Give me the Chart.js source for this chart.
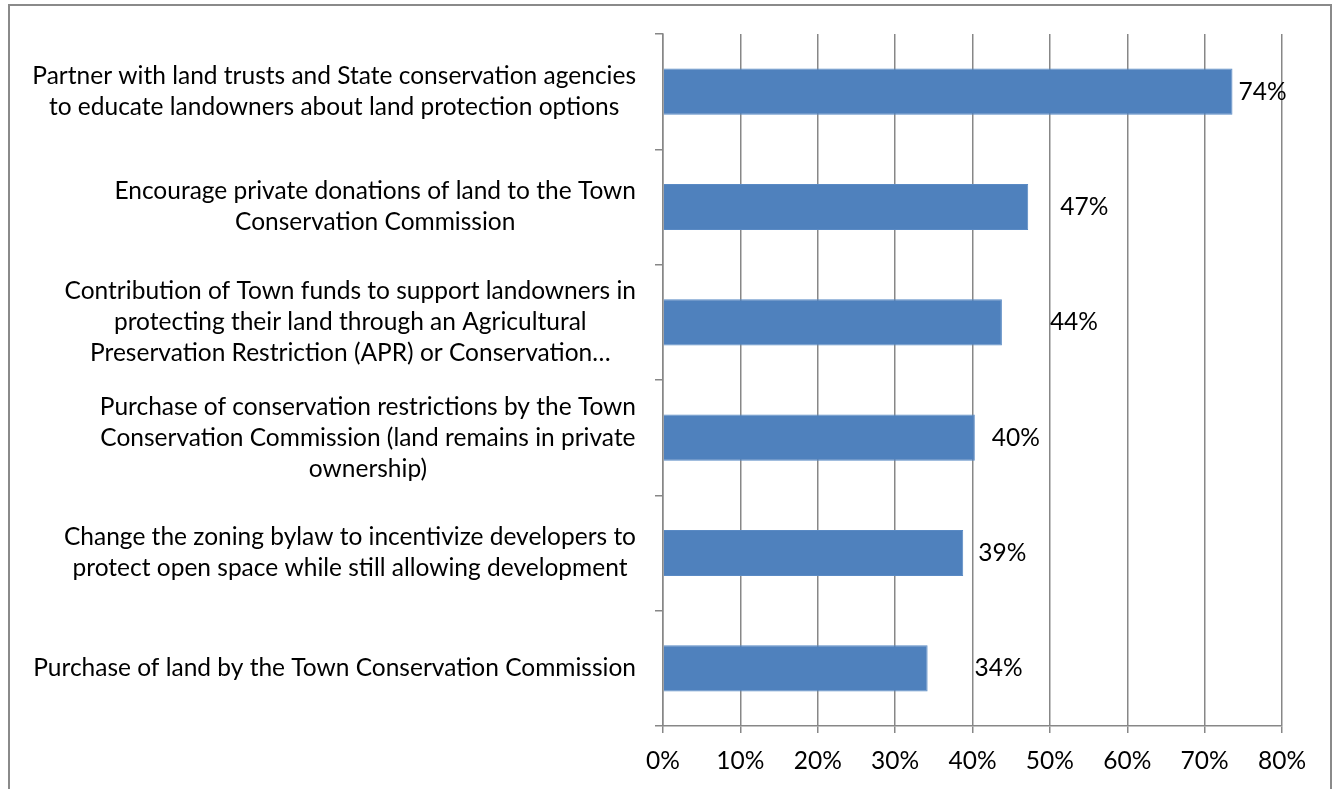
<!DOCTYPE html>
<html>
<head>
<meta charset="utf-8">
<script src="https://cdn.jsdelivr.net/npm/chart.js@4"></script>
<style>
  body { margin: 0; background: #fff; }
  #wrap { position: relative; width: 1341px; height: 789px; overflow: hidden; }
  #frame { position: absolute; left: 8px; top: 4px; width: 1324px; height: 800px; border: 2px solid #8a8a8a; box-sizing: border-box; }
  #chart { position: absolute; left: 0; top: 0; }
</style>
</head>
<body>
<div id="wrap">
  <div id="frame"></div>
  <canvas id="chart" width="1341" height="789"></canvas>
</div>
<script>
// categories (top to bottom), each split into its display lines
const categories = [
    ['Partner with land trusts and State conservation agencies', 'to educate landowners about land protection options'],
    ['Encourage private donations of land to the Town', 'Conservation Commission'],
    ['Contribution of Town funds to support landowners in', 'protecting their land through an Agricultural', 'Preservation Restriction (APR) or Conservation\u2026'],
    ['Purchase of conservation restrictions by the Town', 'Conservation Commission (land remains in private', 'ownership)'],
    ['Change the zoning bylaw to incentivize developers to', 'protect open space while still allowing development'],
    ['Purchase of land by the Town Conservation Commission']
];
const values = [73.6, 47.2, 43.8, 40.3, 38.8, 34.2];
const valueLabels = ['74%', '47%', '44%', '40%', '39%', '34%'];
const xTicks = [0, 10, 20, 30, 40, 50, 60, 70, 80];

// label placement tweaks (px right of bar end), as in the original
const labelNudge = [6, 32, 48, 17, 15, 47];

const fontFamily = 'Lato, "Open Sans", sans-serif';
const fontSize = 24.5;
const gridColor = '#878787';

const categoryLabels = {
    id: 'categoryLabels',
    afterDraw(chart) {
        const ctx = chart.ctx;
        const yScale = chart.scales.y;
        const lineHeight = 31;
        const rightEdge = 636;
        ctx.save();
        ctx.font = fontSize + 'px ' + fontFamily;
        ctx.fillStyle = '#000';
        ctx.textAlign = 'center';
        ctx.textBaseline = 'middle';
        categories.forEach((lines, i) => {
            const cy = yScale.getPixelForTick(i);
            const maxW = Math.max(...lines.map(l => ctx.measureText(l).width));
            const cx = rightEdge - maxW / 2;
            const startY = cy - (lines.length - 1) * lineHeight / 2;
            lines.forEach((l, j) => ctx.fillText(l, cx, startY + j * lineHeight));
        });
        ctx.restore();
    }
};

const valueLabelPlugin = {
    id: 'valueLabels',
    afterDatasetsDraw(chart) {
        const ctx = chart.ctx;
        const meta = chart.getDatasetMeta(0);
        ctx.save();
        ctx.font = fontSize + 'px ' + fontFamily;
        ctx.fillStyle = '#000';
        ctx.textAlign = 'left';
        ctx.textBaseline = 'middle';
        meta.data.forEach((bar, i) => {
            ctx.fillText(valueLabels[i], bar.x + labelNudge[i], bar.y);
        });
        ctx.restore();
    }
};

new Chart(document.getElementById('chart').getContext('2d'), {
    type: 'bar',
    data: {
        labels: categories.map(c => c.join(' ')),
        datasets: [{
            data: values,
            backgroundColor: '#4f81bd',
            borderColor: '#5a8ac4',
            borderWidth: 1,
            categoryPercentage: 1,
            barPercentage: 0.4
        }]
    },
    options: {
        indexAxis: 'y',
        responsive: false,
        animation: false,
        layout: { padding: { top: 34, right: 59, left: 0, bottom: 0 } },
        plugins: {
            legend: { display: false },
            tooltip: { enabled: false }
        },
        scales: {
            x: {
                min: 0,
                max: 80,
                afterBuildTicks: scale => { scale.ticks = xTicks.map(v => ({ value: v })); },
                afterFit: scale => { scale.height = 63; },
                ticks: {
                    callback: v => v + '%',
                    color: '#000',
                    font: { family: fontFamily, size: fontSize },
                    padding: 13,
                    maxRotation: 0
                },
                grid: { color: gridColor, lineWidth: 1.5, tickLength: 7 },
                border: { color: gridColor, width: 1.5 }
            },
            y: {
                afterFit: scale => { scale.width = 663; },
                ticks: {
                    color: 'rgba(0,0,0,0)',
                    font: { family: fontFamily, size: fontSize }
                },
                grid: { drawOnChartArea: false, color: gridColor, lineWidth: 1.5, tickLength: 8, offset: true },
                border: { color: gridColor, width: 1.5 }
            }
        }
    },
    plugins: [categoryLabels, valueLabelPlugin]
});
</script>
</body>
</html>
